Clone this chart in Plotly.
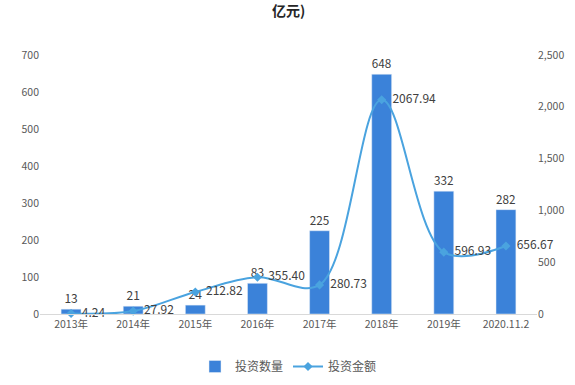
import plotly.graph_objects as go

categories = ["2013年", "2014年", "2015年", "2016年", "2017年", "2018年", "2019年", "2020.11.2"]
counts = [13, 21, 24, 83, 225, 648, 332, 282]
amounts = [4.24, 27.92, 212.82, 355.40, 280.73, 2067.94, 596.93, 656.67]
left_ticks = [0, 100, 200, 300, 400, 500, 600, 700]
right_ticks = [0, 500, 1000, 1500, 2000, 2500]

bar_color = "#3B82D9"
line_color = "#4AA3DF"
font_family = "Microsoft YaHei, Noto Sans CJK SC, sans-serif"

M_L, M_R, M_T, M_B = 40, 38, 55, 71
plot_h = 385 - M_T - M_B

fig = go.Figure()
fig.add_trace(go.Bar(
    x=categories, y=counts, name="投资数量",
    marker_color=bar_color, width=0.32,
    text=[str(v) for v in counts], textposition="outside",
    textfont=dict(size=12, color="#404040"),
    cliponaxis=False,
))
fig.add_trace(go.Scatter(
    x=categories, y=amounts, name="投资金额", yaxis="y2",
    mode="lines+markers+text",
    line=dict(color=line_color, width=2, shape="spline", smoothing=1.0),
    marker=dict(symbol="diamond", size=7, color=line_color),
    text=["  " + f"{v:.2f}" for v in amounts], textposition="middle right",
    textfont=dict(size=12, color="#404040"),
    cliponaxis=False,
))

fig.update_layout(
    width=575, height=385,
    margin=dict(l=M_L, r=M_R, t=M_T, b=M_B, autoexpand=False),
    paper_bgcolor="white", plot_bgcolor="white",
    font=dict(family=font_family, size=10.5, color="#595959"),
    bargap=0.68,
    showlegend=True,
    legend=dict(orientation="h", x=0.5, xanchor="center", y=-(352 - (385 - M_B)) / plot_h,
                yanchor="top", font=dict(size=12, color="#595959")),
    xaxis=dict(type="category", showgrid=False, showline=True, linecolor="#D9D9D9",
               ticks="", tickfont=dict(size=10.5, color="#595959")),
    yaxis=dict(range=[0, 700], tickvals=left_ticks, showgrid=False, zeroline=False,
               showline=False, ticks="", tickfont=dict(size=10.5, color="#595959")),
    yaxis2=dict(range=[0, 2500], tickvals=right_ticks, overlaying="y", side="right",
                showgrid=False, zeroline=False, showline=False, tickformat=",",
                tickfont=dict(size=10.5, color="#595959")),
    annotations=[dict(text="<b>亿元)</b>", x=0.5, xref="paper",
                      y=1 + (M_T - 10) / plot_h, yref="paper", yanchor="middle",
                      showarrow=False, font=dict(size=14, color="#262626"))],
)

fig.write_html("out.html", config={"displayModeBar": False},
               post_script="document.body.style.margin='0';")
